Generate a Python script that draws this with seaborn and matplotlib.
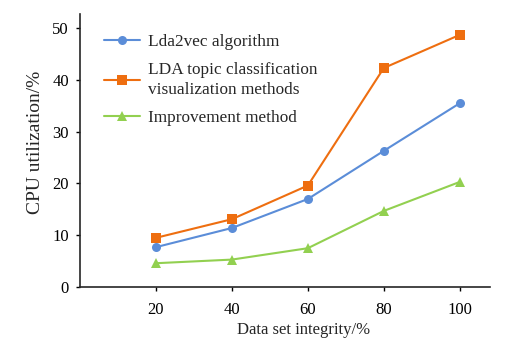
import matplotlib
matplotlib.use("Agg")
import matplotlib.pyplot as plt
import seaborn as sns
import pandas as pd

x_vals = [20, 40, 60, 80, 100]
lda2vec = [7.7, 11.4, 17.0, 26.3, 35.5]
lda_vis = [9.5, 13.1, 19.6, 42.3, 48.7]
improved = [4.6, 5.3, 7.5, 14.7, 20.3]
series_names = ["Lda2vec algorithm",
                "LDA topic classification\nvisualization methods",
                "Improvement method"]
y_ticks = [0, 10, 20, 30, 40, 50]

sns.set_style("ticks")
plt.rcParams['font.family'] = ['Liberation Serif', 'DejaVu Serif']
plt.rcParams['mathtext.fontset'] = 'stix'

df = pd.DataFrame({
    "x": x_vals * 3,
    "y": lda2vec + lda_vis + improved,
    "s": [series_names[0]] * 5 + [series_names[1]] * 5 + [series_names[2]] * 5,
})

colors = ["#5B8DD8", "#EE6E10", "#92D050"]
markers = ["o", "s", "^"]
sizes = [6.5, 7, 6.5]

fig = plt.figure(figsize=(5.09, 3.45), dpi=100)
ax = fig.add_axes([0.157, 0.168, 0.806, 0.791])

for name, c, m, ms in zip(series_names, colors, markers, sizes):
    sub = df[df["s"] == name]
    sns.lineplot(data=sub, x="x", y="y", ax=ax, color=c, marker=m,
                 markersize=ms, markeredgewidth=0, linewidth=1.5, label=name)

ax.set_xlim(0, 108)
ax.set_ylim(0, 52.7)
ax.set_xticks(x_vals)
ax.set_yticks(y_ticks)
ax.tick_params(axis='both', labelsize=12, length=3, width=1, direction='out', colors='black')
ax.tick_params(axis='x', pad=8)
ax.tick_params(axis='y', pad=5)
ax.spines['top'].set_visible(False)
ax.spines['right'].set_visible(False)
ax.spines['left'].set_linewidth(1.2)
ax.spines['bottom'].set_linewidth(1.2)
ax.set_xlabel("Data set integrity/%", fontsize=12)
ax.set_ylabel("CPU utilization/%", fontsize=14)
ax.xaxis.set_label_coords(0.544, -0.129)
ax.yaxis.set_label_coords(-0.087, 0.53)

leg = ax.legend(loc="upper left", bbox_to_anchor=(0.02, 0.985), frameon=False,
                fontsize=12.4, handlelength=2.1, labelspacing=0.7,
                handletextpad=0.5)
leg.get_texts()[1].set_linespacing(1.35)

fig.savefig("out.png", dpi=100)
